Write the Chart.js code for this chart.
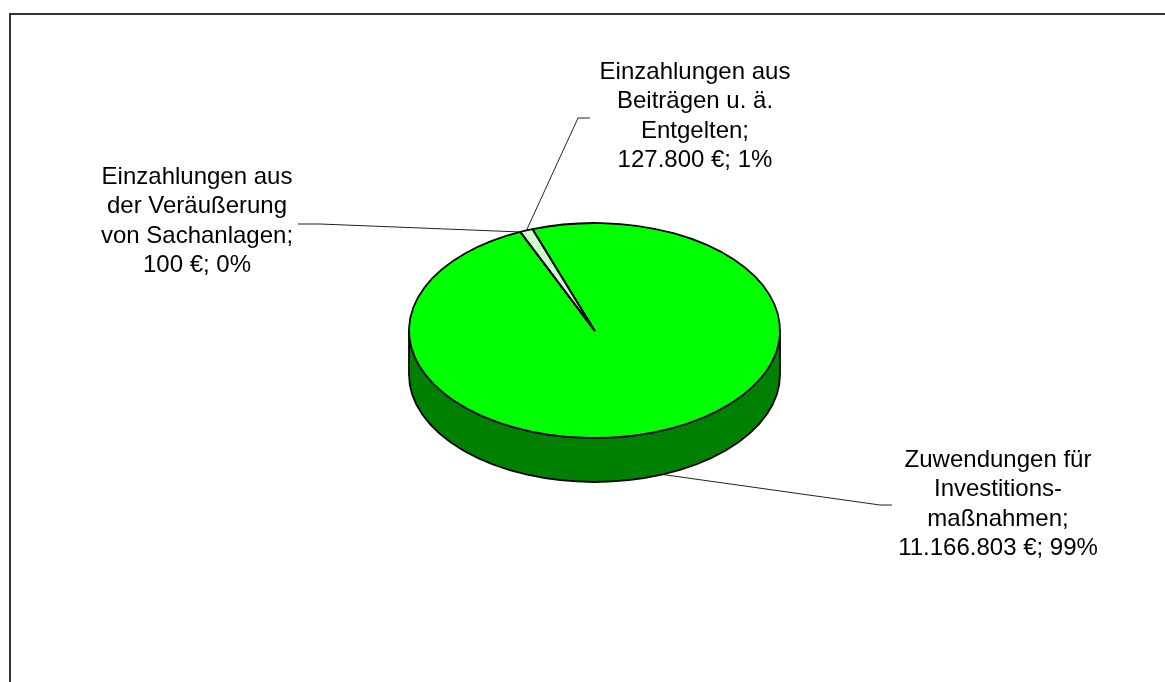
<!DOCTYPE html>
<html>
<head>
<meta charset="utf-8">
<script src="https://cdn.jsdelivr.net/npm/chart.js@4.4.1/dist/chart.umd.min.js"></script>
<style>
  html, body { margin: 0; padding: 0; background: #fff; }
  #wrap { width: 1165px; height: 682px; }
</style>
</head>
<body>
<div id="wrap"><canvas id="chart" width="1165" height="682"></canvas></div>
<script>
'use strict';

// ---------- data ----------
const categories = [
  ['Zuwendungen für', 'Investitions-', 'maßnahmen'],
  ['Einzahlungen aus', 'der Veräußerung', 'von Sachanlagen'],
  ['Einzahlungen aus', 'Beiträgen u. ä.', 'Entgelten'],
];
const values = [11166803, 100, 127800];

// ---------- styles / layout ----------
const topColors = ['#00ff00', '#99cc00', '#ccffcc'];
const sideColors = ['#008000', '#4d6600', '#66a366'];
const labelAnchor = [[998, 467], [197, 184], [695, 79]];   // centre x, first baseline
const leaderBend = [[880, 505, 892], [320, 224, 298], [578, 118, 590]]; // bend x, y, tick end x
const SQUASH = 107.5 / 185.5;
const DEPTH = 44;
const LINE_H = 29.3;
const FONT = '24px "Liberation Sans", Arial, sans-serif';

const fmt = (n) => new Intl.NumberFormat('de-DE').format(n);
const total = values.reduce((a, b) => a + b, 0);

// parts of [s, e] that lie on the front half (canvas angle 0..PI)
function frontParts(s, e) {
  const out = [];
  for (let k = -2; k <= 2; k++) {
    const a = Math.max(s, 2 * Math.PI * k), b = Math.min(e, 2 * Math.PI * k + Math.PI);
    if (b > a) out.push([a, b]);
  }
  return out;
}

const pie3d = {
  id: 'pie3d',
  beforeDraw(chart) {
    const ctx = chart.ctx;
    ctx.save();
    ctx.strokeStyle = '#333';
    ctx.lineWidth = 2;
    ctx.strokeRect(10, 14, 1300, 800);
    ctx.restore();
  },
  beforeDatasetsDraw(chart) {
    const ctx = chart.ctx;
    const arcs = chart.getDatasetMeta(0).data;
    const { x, y, outerRadius: r } = arcs[0];
    ctx.save();
    ctx.lineWidth = 1.8;
    ctx.strokeStyle = '#000';
    ctx.lineJoin = 'round';
    arcs.forEach((arc, i) => {
      frontParts(arc.startAngle, arc.endAngle).forEach(([a, b]) => {
        ctx.beginPath();
        ctx.ellipse(x, y, r, r * SQUASH, 0, a, b, false);
        ctx.ellipse(x, y + DEPTH, r, r * SQUASH, 0, b, a, true);
        ctx.closePath();
        ctx.fillStyle = sideColors[i];
        ctx.fill();
        ctx.stroke();
      });
    });
    ctx.restore();
    // squash the library's pie into the top face
    ctx.save();
    ctx.translate(x, y);
    ctx.scale(1, SQUASH);
    ctx.translate(-x, -y);
  },
  afterDatasetsDraw(chart) {
    const ctx = chart.ctx;
    ctx.restore();
    const arcs = chart.getDatasetMeta(0).data;
    const { x, y, outerRadius: r } = arcs[0];

    ctx.save();
    ctx.strokeStyle = '#000';
    ctx.lineWidth = 1.8;
    ctx.lineJoin = 'round';
    arcs.forEach((arc) => {
      ctx.beginPath();
      ctx.moveTo(x, y);
      ctx.ellipse(x, y, r, r * SQUASH, 0, arc.startAngle, arc.endAngle, false);
      ctx.closePath();
      ctx.stroke();
    });

    // leader lines
    ctx.lineWidth = 1;
    ctx.strokeStyle = '#222';
    arcs.forEach((arc, i) => {
      const m = (arc.startAngle + arc.endAngle) / 2;
      const px = x + r * Math.cos(m);
      let py = y + r * SQUASH * Math.sin(m);
      if (Math.sin(m) > 0) py += DEPTH;
      const [bx, by, tx] = leaderBend[i];
      ctx.beginPath();
      ctx.moveTo(px, py);
      ctx.lineTo(bx, by);
      ctx.lineTo(tx, by);
      ctx.stroke();
    });

    // labels
    ctx.fillStyle = '#000';
    ctx.font = FONT;
    ctx.textAlign = 'center';
    ctx.textBaseline = 'alphabetic';
    categories.forEach((cat, i) => {
      const lines = cat.slice(0, -1);
      lines.push(cat[cat.length - 1] + ';');
      lines.push(`${fmt(values[i])} €; ${Math.round(values[i] / total * 100)}%`);
      const [lx, ly] = labelAnchor[i];
      lines.forEach((t, j) => ctx.fillText(t, lx, ly + j * LINE_H));
    });
    ctx.restore();
  },
};

new Chart(document.getElementById('chart'), {
  type: 'pie',
  data: {
    labels: categories.map((c) => c.join(' ')),
    datasets: [{
      data: values,
      backgroundColor: topColors,
      borderWidth: 0,
    }],
  },
  options: {
    responsive: false,
    animation: false,
    events: [],
    rotation: -19.5,
    radius: 185.5,
    layout: { padding: { left: 409, right: 385, top: 145, bottom: 166 } },
    plugins: { legend: { display: false }, tooltip: { enabled: false } },
  },
  plugins: [pie3d],
});
</script>
</body>
</html>
